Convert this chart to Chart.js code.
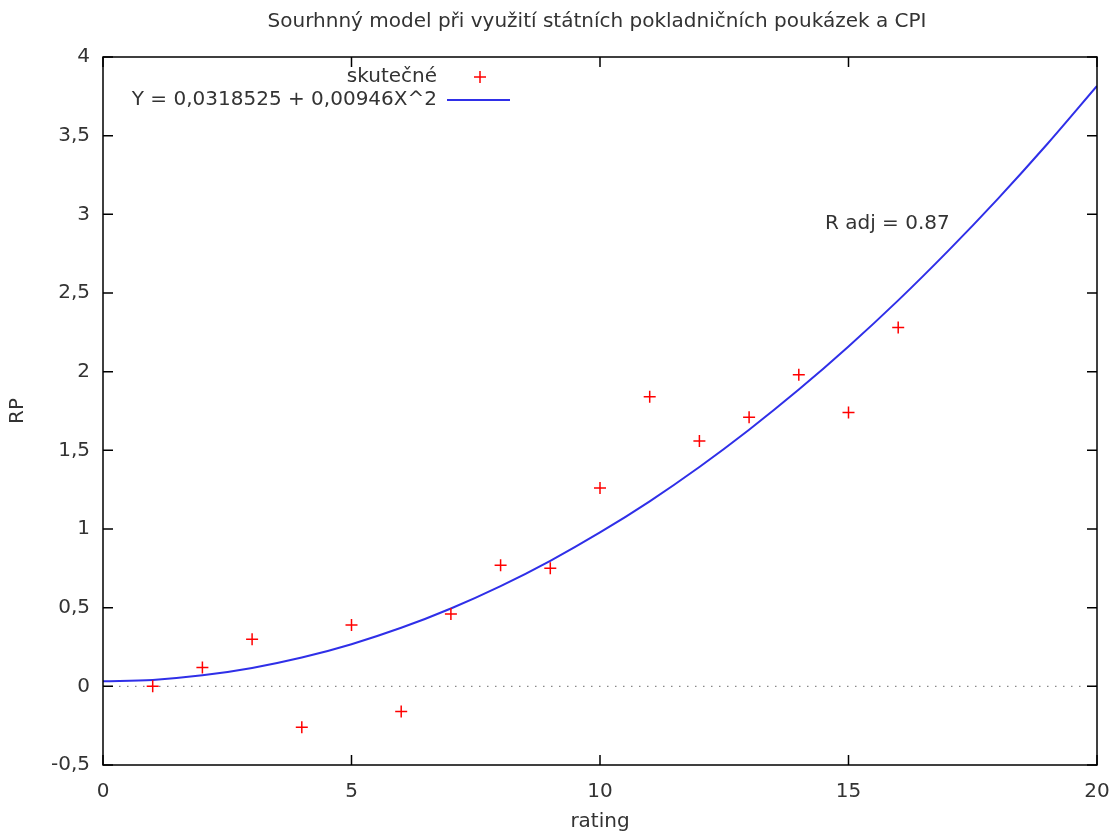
<!DOCTYPE html>
<html>
<head>
<meta charset="utf-8">
<script src="https://cdn.jsdelivr.net/npm/chart.js@4/dist/chart.umd.min.js"></script>
<style>
  body { margin: 0; background: #fff; }
  #wrap { width: 1113px; height: 832px; }
</style>
</head>
<body>
<div id="wrap"><canvas id="rp"></canvas></div>
<script>
// hodnoty
const ratingVals = [1, 2, 3, 4, 5, 6, 7, 8, 9, 10, 11, 12, 13, 14, 15, 16];
const skutecne = [0.0, 0.12, 0.30, -0.26, 0.39, -0.16, 0.46, 0.77, 0.75, 1.26, 1.84, 1.56, 1.71, 1.98, 1.74, 2.28];

// křivka modelu Y = 0,0318525 + 0,00946X^2 (hodnoty v celých X)
const curveX = [0, 1, 2, 3, 4, 5, 6, 7, 8, 9, 10, 11, 12, 13, 14, 15, 16, 17, 18, 19, 20];
const curveY = [0.032, 0.041, 0.070, 0.117, 0.183, 0.268, 0.372, 0.495, 0.637, 0.798, 0.978,
  1.176, 1.394, 1.631, 1.886, 2.160, 2.453, 2.766, 3.097, 3.447, 3.816];

const xTicks = [0, 5, 10, 15, 20];
const yTicks = [-0.5, 0, 0.5, 1, 1.5, 2, 2.5, 3, 3.5, 4];

const nadpis = 'Sourhnný model při využití státních pokladničních poukázek a CPI';

const fnt = '"DejaVu Sans", Verdana, sans-serif';
const fsz = 20;
const txt = '#333';

const gnuplotBits = {
  id: 'gnuplotBits',
  beforeDatasetsDraw(chart) {
    const { ctx, chartArea: a, scales } = chart;
    const y0 = scales.y.getPixelForValue(0);
    ctx.save();
    ctx.strokeStyle = '#888';
    ctx.lineWidth = 1.2;
    ctx.setLineDash([1.5, 6.5]);
    ctx.beginPath();
    ctx.moveTo(a.left, y0);
    ctx.lineTo(a.right, y0);
    ctx.stroke();
    ctx.restore();
  },
  afterDraw(chart) {
    const { ctx, chartArea: a, scales } = chart;
    ctx.save();
    ctx.strokeStyle = '#000';
    ctx.lineWidth = 1.5;
    ctx.strokeRect(a.left, a.top, a.right - a.left, a.bottom - a.top);
    ctx.beginPath();
    xTicks.forEach(v => {
      const px = scales.x.getPixelForValue(v);
      ctx.moveTo(px, a.bottom); ctx.lineTo(px, a.bottom - 10);
      ctx.moveTo(px, a.top); ctx.lineTo(px, a.top + 10);
    });
    yTicks.forEach(v => {
      const py = scales.y.getPixelForValue(v);
      ctx.moveTo(a.left, py); ctx.lineTo(a.left + 10, py);
      ctx.moveTo(a.right, py); ctx.lineTo(a.right - 10, py);
    });
    ctx.stroke();

    ctx.font = fsz + 'px ' + fnt;
    ctx.fillStyle = txt;
    ctx.textBaseline = 'middle';
    ctx.textAlign = 'center';
    ctx.fillText(nadpis, (a.left + a.right) / 2 - 3, 22);

    // legenda ve stylu gnuplotu
    ctx.textAlign = 'right';
    ctx.fillText('skutečné', 437, 77);
    ctx.fillText('Y = 0,0318525 + 0,00946X^2', 437, 100);
    ctx.strokeStyle = '#ff0000';
    ctx.lineWidth = 1.5;
    ctx.beginPath();
    ctx.moveTo(474, 77); ctx.lineTo(486, 77);
    ctx.moveTo(480, 71); ctx.lineTo(480, 83);
    ctx.stroke();
    ctx.strokeStyle = '#2f2fe8';
    ctx.lineWidth = 2;
    ctx.beginPath();
    ctx.moveTo(447, 100); ctx.lineTo(510, 100);
    ctx.stroke();

    ctx.fillStyle = txt;
    ctx.textAlign = 'left';
    ctx.fillText('R adj = 0.87', 825, 224);
    ctx.restore();
  }
};

new Chart(document.getElementById('rp'), {
  type: 'scatter',
  data: {
    datasets: [{
      label: 'skutečné',
      data: ratingVals.map((x, i) => ({ x: x, y: skutecne[i] })),
      pointStyle: 'cross',
      pointRadius: 6,
      pointBorderWidth: 1.5,
      borderColor: '#ff0000',
      backgroundColor: '#ff0000',
      order: 1
    }, {
      label: 'Y = 0,0318525 + 0,00946X^2',
      type: 'line',
      data: curveX.map((x, i) => ({ x: x, y: curveY[i] })),
      borderColor: '#2f2fe8',
      borderWidth: 2,
      pointRadius: 0,
      cubicInterpolationMode: 'monotone',
      fill: false,
      order: 2
    }]
  },
  options: {
    responsive: true,
    maintainAspectRatio: false,
    animation: false,
    layout: { padding: { top: 57, right: 16, left: 0, bottom: 0 } },
    plugins: {
      legend: { display: false },
      tooltip: { enabled: false },
      title: { display: false }
    },
    scales: {
      x: {
        type: 'linear',
        min: 0,
        max: 20,
        afterBuildTicks: s => { s.ticks = xTicks.map(v => ({ value: v })); },
        afterFit: s => { s.height = 67; s.paddingLeft = 0; s.paddingRight = 0; },
        grid: { display: false, drawTicks: false },
        border: { display: false },
        ticks: { color: txt, font: { family: fnt, size: fsz }, padding: 15, maxRotation: 0 },
        title: { display: true, text: 'rating', color: txt, font: { family: fnt, size: fsz, lineHeight: 1.0 }, padding: { top: 0, bottom: 0 } }
      },
      y: {
        type: 'linear',
        min: -0.5,
        max: 4,
        afterBuildTicks: s => { s.ticks = yTicks.map(v => ({ value: v })); },
        afterFit: s => { s.width = 103; s.paddingTop = 0; s.paddingBottom = 0; },
        grid: { display: false, drawTicks: false },
        border: { display: false },
        ticks: {
          color: txt,
          font: { family: fnt, size: fsz },
          padding: 13,
          callback: v => String(v).replace('.', ',')
        },
        title: { display: true, text: 'RP', color: txt, font: { family: fnt, size: fsz }, padding: { top: 6, bottom: 0 } }
      }
    }
  },
  plugins: [gnuplotBits]
});
</script>
</body>
</html>
